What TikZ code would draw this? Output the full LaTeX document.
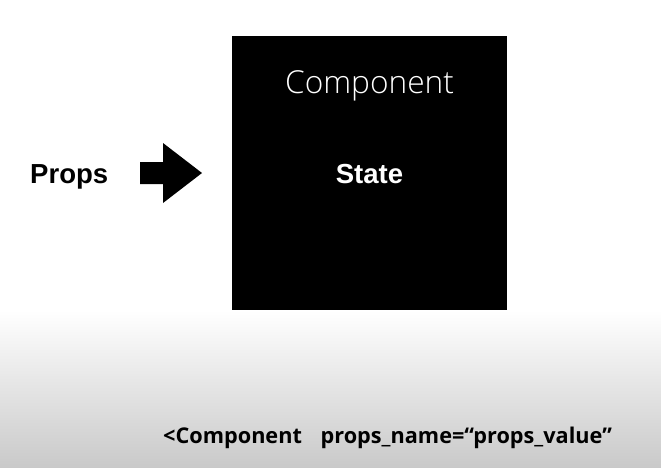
\documentclass[tikz,border=0pt]{standalone}
\usepackage{fontspec}
\setmainfont{Liberation Sans}
\newfontfamily\thinfont{Open Sans}[UprightFont={* Light}]
\newfontfamily\codefont{Open Sans}
\usetikzlibrary{positioning}

\begin{document}
\begin{tikzpicture}[x=0.03cm, y=-0.03cm]
  \tikzset{
    label/.style={font=\fontsize{23.5}{28}\selectfont\bfseries, inner sep=0pt},
    boxtitle/.style={white, font=\thinfont\fontsize{27}{32}\selectfont, inner sep=0pt},
    tagline/.style={font=\codefont\fontsize{18.5}{22}\selectfont\bfseries, inner sep=0pt, anchor=base west}
  }
  % background: white, fading to gray at the bottom
  \useasboundingbox (0,0) rectangle (661,467);
  \shade[top color=white, bottom color=black!21] (0,310) rectangle (661,467);

  % component box
  \node[fill=black, minimum width=275*0.03cm, minimum height=274*0.03cm,
        inner sep=0pt, anchor=north west] (comp) at (232,36) {};
  \node[boxtitle, anchor=base] (title) at (369.5,93) {Component};
  \node[label, white, anchor=base] (state) at (369.5,183) {State};

  % props and block arrow
  \node[label, anchor=base west] (props) at (30,183) {Props};
  \fill (140,162) -- (163,162) -- (163,143) -- (202,173)
     -- (163,203) -- (163,184) -- (140,184) -- cycle;

  % bottom line
  \node[tagline] (tag) at (163,443) {<Component\hspace{16pt}props\_name=“props\_value”};
\end{tikzpicture}
\end{document}
